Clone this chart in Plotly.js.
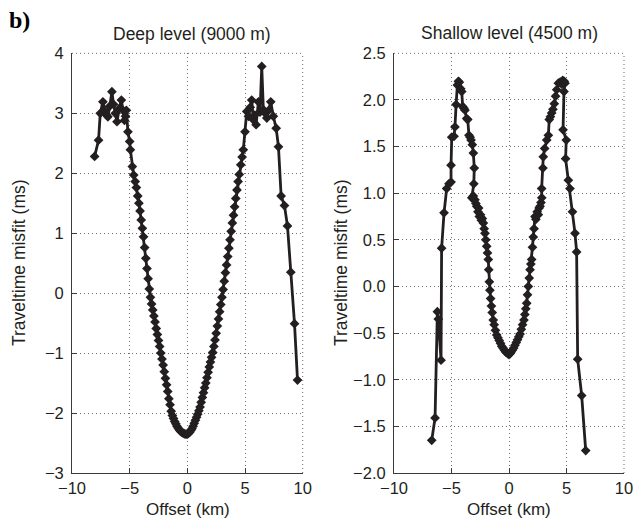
<!DOCTYPE html>
<html>
<head>
<meta charset="utf-8">
<script src="https://cdn.plot.ly/plotly-3.0.1.min.js"></script>
<style>html,body{margin:0;padding:0;background:#fff;}#chart{width:636px;height:523px;}</style>
</head>
<body>
<div id="chart"></div>
<script>
// Deep level (9000 m): offset (km) and traveltime misfit (ms)
const deepOffset = [-8.04,-7.70,-7.55,-7.32,-7.15,-7.00,-6.89,-6.72,-6.54,-6.40,-6.25,-6.10,-5.90,-5.72,-5.58,-5.45,-5.36,-5.29,-5.15,-5.00,-4.94,-4.77,-4.65,-4.52,-4.42,-4.30,-4.20,-4.10,-4.00,-3.90,-3.80,-3.70,-3.60,-3.50,-3.40,-3.30,-3.20,-3.10,-3.00,-2.90,-2.80,-2.70,-2.60,-2.50,-2.40,-2.30,-2.20,-2.10,-2.00,-1.90,-1.80,-1.70,-1.60,-1.50,-1.40,-1.30,-1.20,-1.10,-1.00,-0.90,-0.80,-0.70,-0.60,-0.50,-0.40,-0.30,-0.20,-0.10,0.00,0.10,0.20,0.30,0.40,0.50,0.60,0.70,0.80,0.90,1.00,1.10,1.20,1.30,1.40,1.50,1.60,1.70,1.80,1.90,2.00,2.10,2.20,2.30,2.40,2.50,2.60,2.70,2.80,2.90,3.00,3.10,3.20,3.30,3.40,3.50,3.60,3.70,3.80,3.90,4.00,4.10,4.20,4.30,4.40,4.50,4.63,4.75,4.85,5.00,5.15,5.30,5.45,5.58,5.72,5.85,5.96,6.16,6.30,6.45,6.59,6.75,6.89,7.05,7.23,7.45,7.70,7.90,8.13,8.42,8.68,8.97,9.29,9.55];
const deepMisfit = [2.28,2.55,3.00,3.19,3.05,2.97,2.94,3.12,3.36,3.15,3.00,2.86,3.08,3.22,3.05,2.88,2.95,3.05,2.69,2.53,2.39,2.11,1.97,1.86,1.76,1.62,1.50,1.37,1.22,1.08,0.94,0.76,0.58,0.41,0.24,0.07,-0.07,-0.18,-0.28,-0.38,-0.48,-0.59,-0.69,-0.79,-0.89,-1.00,-1.10,-1.20,-1.31,-1.42,-1.53,-1.64,-1.76,-1.86,-1.97,-2.04,-2.09,-2.14,-2.18,-2.22,-2.25,-2.28,-2.30,-2.32,-2.33,-2.34,-2.35,-2.35,-2.35,-2.34,-2.32,-2.29,-2.26,-2.22,-2.17,-2.12,-2.07,-2.02,-1.96,-1.90,-1.82,-1.74,-1.66,-1.58,-1.50,-1.41,-1.32,-1.23,-1.15,-1.07,-0.99,-0.89,-0.78,-0.67,-0.55,-0.43,-0.31,-0.19,-0.07,0.06,0.20,0.34,0.47,0.61,0.75,0.89,1.03,1.17,1.30,1.44,1.58,1.72,1.86,1.98,2.14,2.27,2.39,2.69,3.03,2.95,3.10,3.22,2.89,2.97,2.81,3.19,3.02,3.78,3.06,3.00,2.92,3.05,3.19,2.95,2.75,2.44,1.62,1.46,1.12,0.35,-0.51,-1.45];

// Shallow level (4500 m)
const shallowOffset = [-6.72,-6.43,-6.23,-6.15,-5.91,-5.86,-5.65,-5.42,-5.22,-5.04,-5.04,-4.98,-4.78,-4.70,-4.60,-4.49,-4.40,-4.32,-4.20,-4.11,-4.03,-3.92,-3.83,-3.68,-3.59,-3.48,-3.38,-3.30,-3.19,-3.10,-3.02,-3.06,-3.24,-3.10,-2.96,-2.88,-2.81,-2.70,-2.64,-2.58,-2.48,-2.40,-2.32,-2.23,-2.16,-2.09,-2.02,-1.94,-1.87,-1.80,-1.76,-1.71,-1.66,-1.60,-1.53,-1.46,-1.37,-1.29,-1.18,-1.07,-0.96,-0.85,-0.74,-0.63,-0.52,-0.41,-0.30,-0.20,-0.10,0.00,0.10,0.20,0.30,0.41,0.52,0.63,0.74,0.85,0.96,1.07,1.18,1.30,1.38,1.46,1.54,1.61,1.68,1.76,1.83,1.90,1.97,2.04,2.11,2.18,2.26,2.34,2.45,2.55,2.62,2.70,2.78,2.85,2.84,2.95,2.98,3.10,3.28,3.42,3.50,3.60,3.71,3.82,3.94,4.05,4.15,4.29,4.45,4.58,4.67,4.80,4.87,4.78,4.70,4.98,4.92,5.16,5.30,5.52,5.74,5.88,5.97,6.32,6.67];
const shallowMisfit = [-1.65,-1.41,-0.27,-0.35,-0.79,0.41,0.79,1.05,1.10,1.12,1.30,1.60,1.61,1.71,1.95,2.16,2.20,2.19,2.12,2.09,1.93,1.91,1.89,1.80,1.79,1.62,1.60,1.57,1.52,1.43,1.27,1.10,0.95,0.97,0.93,0.89,0.86,0.80,0.84,0.75,0.77,0.71,0.73,0.68,0.62,0.57,0.50,0.43,0.36,0.29,0.18,0.05,-0.04,-0.13,-0.21,-0.28,-0.36,-0.41,-0.47,-0.52,-0.55,-0.58,-0.61,-0.64,-0.66,-0.68,-0.70,-0.71,-0.72,-0.73,-0.72,-0.70,-0.68,-0.66,-0.63,-0.60,-0.57,-0.54,-0.51,-0.46,-0.41,-0.36,-0.30,-0.24,-0.18,-0.09,0.00,0.09,0.18,0.24,0.29,0.42,0.53,0.62,0.75,0.72,0.80,0.77,0.84,0.86,0.90,0.95,1.05,1.27,1.39,1.48,1.57,1.62,1.79,1.82,1.86,1.90,1.96,2.04,2.11,2.18,2.19,2.17,2.21,2.20,2.18,2.09,1.68,1.57,1.37,1.14,1.05,0.80,0.57,0.37,-0.78,-1.17,-1.76];

const xTicks = [-10, -5, 0, 5, 10];
const deepYTicks = [-3, -2, -1, 0, 1, 2, 3, 4];
const shallowYTicks = [-2.0, -1.5, -1.0, -0.5, 0.0, 0.5, 1.0, 1.5, 2.0, 2.5];

const ink = '#231f20';
const W = 636, H = 523;
const px = v => v / W;
const py = v => 1 - v / H;
const gridDash = '1px,3px';
const gridColor = '#6e6e6e';

const seriesStyle = {
  mode: 'lines+markers',
  line: {color: ink, width: 2.8},
  marker: {symbol: 'diamond', size: 7.5, color: ink},
  hoverinfo: 'skip',
  showlegend: false
};

const traces = [
  Object.assign({x: deepOffset, y: deepMisfit, xaxis: 'x', yaxis: 'y'}, seriesStyle),
  Object.assign({x: shallowOffset, y: shallowMisfit, xaxis: 'x2', yaxis: 'y2'}, seriesStyle)
];

const font = {family: '"Liberation Sans", Arial, Helvetica, sans-serif', color: ink};
const axisBase = {
  showgrid: true, gridcolor: gridColor, griddash: gridDash, gridwidth: 1,
  showline: true, linecolor: '#3a3a3a', linewidth: 1,
  ticks: 'inside', ticklen: 5, tickcolor: '#3a3a3a', tickwidth: 1,
  zeroline: false, mirror: false,
  tickfont: Object.assign({size: 16.5}, font),
  fixedrange: true
};

function edgeGrid(xr, yr) {
  const st = {type: 'line', layer: 'below', line: {color: gridColor, width: 1, dash: gridDash}};
  return [
    Object.assign({xref: xr + ' domain', yref: yr + ' domain', x0: 0, x1: 1, y0: 1, y1: 1}, st),
    Object.assign({xref: xr + ' domain', yref: yr + ' domain', x0: 1, x1: 1, y0: 0, y1: 1}, st)
  ];
}

const layout = {
  width: W, height: H,
  margin: {l: 0, r: 0, t: 0, b: 0},
  paper_bgcolor: '#fff', plot_bgcolor: '#fff',
  font: font,
  xaxis: Object.assign({}, axisBase, {domain: [px(72), px(302.7)], range: [-10, 10], tickmode: 'array', tickvals: xTicks, anchor: 'y'}),
  yaxis: Object.assign({}, axisBase, {domain: [py(473), py(53.3)], range: [-3, 4], tickmode: 'array', tickvals: deepYTicks, anchor: 'x', ticklabelstandoff: 4}),
  xaxis2: Object.assign({}, axisBase, {domain: [px(394), px(624)], range: [-10, 10], tickmode: 'array', tickvals: xTicks, anchor: 'y2'}),
  yaxis2: Object.assign({}, axisBase, {domain: [py(473), py(53.3)], range: [-2, 2.5], tickmode: 'array', tickvals: shallowYTicks, tickformat: '.1f', anchor: 'x2', ticklabelstandoff: 4}),
  shapes: edgeGrid('x', 'y').concat(edgeGrid('x2', 'y2')),
  annotations: [
    {text: '<b>b)</b>', x: px(7), y: py(20), xref: 'paper', yref: 'paper', xanchor: 'left', yanchor: 'middle', showarrow: false, font: {family: '"Liberation Serif", "Times New Roman", serif', size: 24, color: '#000'}},
    {text: 'Deep level (9000 m)', x: px(192), y: py(34), xref: 'paper', yref: 'paper', xanchor: 'center', yanchor: 'middle', showarrow: false, font: Object.assign({}, font, {size: 17.5})},
    {text: 'Shallow level (4500 m)', x: px(509), y: py(33), xref: 'paper', yref: 'paper', xanchor: 'center', yanchor: 'middle', showarrow: false, font: Object.assign({}, font, {size: 17.5})},
    {text: 'Offset (km)', x: px(188), y: py(509), xref: 'paper', yref: 'paper', xanchor: 'center', yanchor: 'middle', showarrow: false, font: Object.assign({}, font, {size: 17})},
    {text: 'Offset (km)', x: px(509), y: py(509), xref: 'paper', yref: 'paper', xanchor: 'center', yanchor: 'middle', showarrow: false, font: Object.assign({}, font, {size: 17})},
    {text: 'Traveltime misfit (ms)', x: px(19), y: py(263), xref: 'paper', yref: 'paper', xanchor: 'center', yanchor: 'middle', textangle: -90, showarrow: false, font: Object.assign({}, font, {size: 17.5})},
    {text: 'Traveltime misfit (ms)', x: px(341), y: py(263), xref: 'paper', yref: 'paper', xanchor: 'center', yanchor: 'middle', textangle: -90, showarrow: false, font: Object.assign({}, font, {size: 17.5})}
  ]
};

Plotly.newPlot('chart', traces, layout, {staticPlot: true, displayModeBar: false});
</script>
</body>
</html>
